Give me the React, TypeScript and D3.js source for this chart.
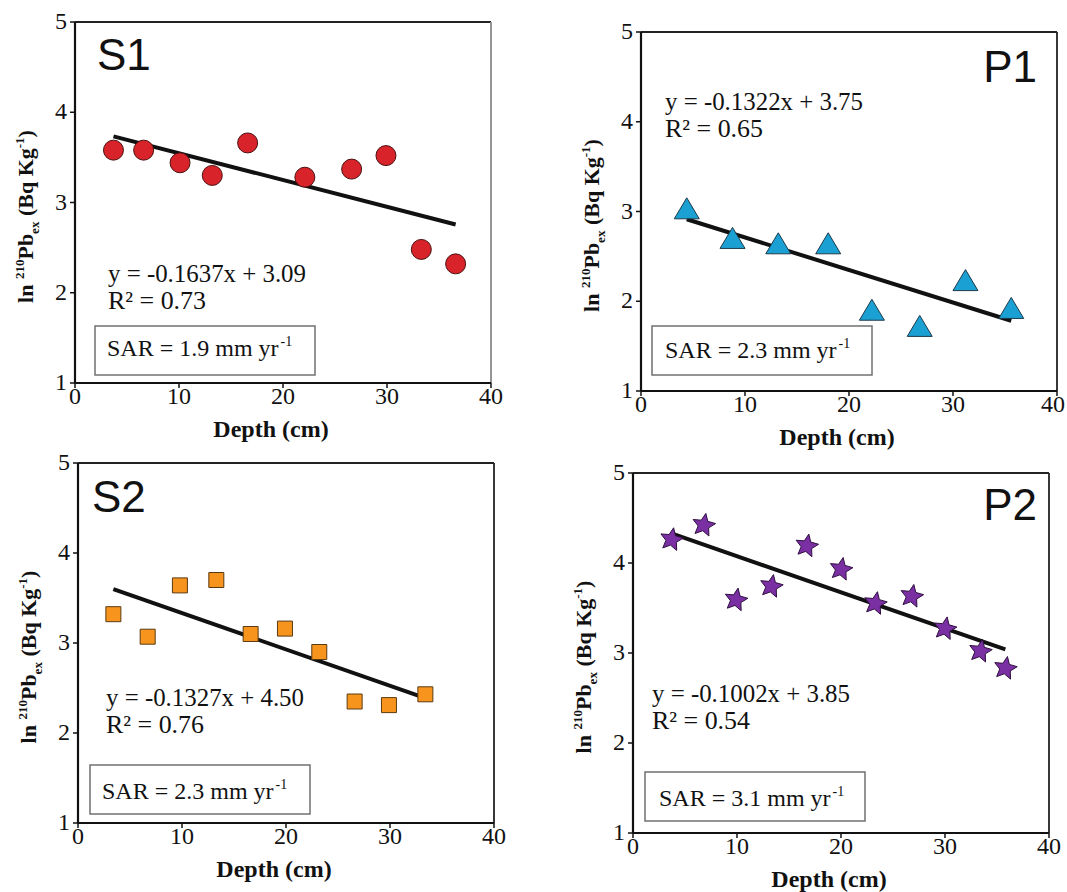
import React, { useEffect, useRef } from 'react';
import * as d3 from 'd3';

// depth (cm) and ln 210Pb_ex values
const s1Depth = [3.7, 6.6, 10.1, 13.2, 16.6, 22.1, 26.6, 29.9, 33.3, 36.6];
const s1Ln = [3.58, 3.58, 3.44, 3.30, 3.66, 3.28, 3.37, 3.52, 2.48, 2.32];

const p1Depth = [4.4, 8.8, 13.2, 18.0, 22.2, 26.8, 31.2, 35.6];
const p1Ln = [3.03, 2.70, 2.64, 2.64, 1.90, 1.72, 2.23, 1.92];

const s2Depth = [3.4, 6.7, 9.8, 13.3, 16.6, 19.9, 23.2, 26.6, 29.9, 33.4];
const s2Ln = [3.32, 3.07, 3.64, 3.70, 3.10, 3.16, 2.90, 2.35, 2.31, 2.43];

const p2Depth = [3.7, 6.8, 9.9, 13.3, 16.7, 20.0, 23.3, 26.8, 30.0, 33.4, 35.8];
const p2Ln = [4.26, 4.42, 3.59, 3.74, 4.19, 3.93, 3.55, 3.63, 3.27, 3.02, 2.83];

const xTicks = [0, 10, 20, 30, 40];
const yTicks = [1, 2, 3, 4, 5];

const panelNames = ['S1', 'P1', 'S2', 'P2'];
const equations = ['y = -0.1637x + 3.09', 'y = -0.1322x + 3.75', 'y = -0.1327x + 4.50', 'y = -0.1002x + 3.85'];
const rSquared = ['0.73', '0.65', '0.76', '0.54'];
const sarValues = ['1.9', '2.3', '2.3', '3.1'];

const SERIF = '"Liberation Serif", "Times New Roman", serif';
const SANS = '"Liberation Sans", Arial, sans-serif';

// plot frames and annotation offsets (pixels)
const layout = [
  { left: 75, top: 22, right: 491, bottom: 383, titleX: 22, titleAnchor: 'start', titleY: 48, eqX: 33, eqY: 260, boxX: 20, boxY: 304, textDx: 12, textDy: 30, rightStroke: '#8a8a8a' },
  { left: 641, top: 32, right: 1057, bottom: 391, titleX: -20, titleAnchor: 'end', titleY: 50, eqX: 24, eqY: 78, boxX: 11, boxY: 294, textDx: 13, textDy: 32, rightStroke: '#222' },
  { left: 78, top: 463, right: 494, bottom: 823, titleX: 14, titleAnchor: 'start', titleY: 49, eqX: 28, eqY: 243, boxX: 12, boxY: 302, textDx: 12, textDy: 34, rightStroke: '#222' },
  { left: 633, top: 473, right: 1049, bottom: 833, titleX: -12, titleAnchor: 'end', titleY: 47, eqX: 19, eqY: 229, boxX: 12, boxY: 299, textDx: 14, textDy: 34, rightStroke: '#222' },
];

const series = [
  { depth: s1Depth, ln: s1Ln, marker: 'circle', fill: '#d8232a', stroke: '#4a1212' },
  { depth: p1Depth, ln: p1Ln, marker: 'triangle', fill: '#1aa0d2', stroke: '#1c3a4a' },
  { depth: s2Depth, ln: s2Ln, marker: 'square', fill: '#f7941d', stroke: '#5a3a12' },
  { depth: p2Depth, ln: p2Ln, marker: 'star', fill: '#7a2fa2', stroke: '#2f1040' },
];

function starPath(outer: number, inner: number, rot: number) {
  const pts: [number, number][] = [];
  for (let i = 0; i < 10; i++) {
    const r = i % 2 === 0 ? outer : inner;
    const a = rot + (i * Math.PI) / 5 - Math.PI / 2;
    pts.push([r * Math.cos(a), r * Math.sin(a)]);
  }
  return 'M' + pts.map(p => p.join(',')).join('L') + 'Z';
}

function markerPath(kind: string) {
  if (kind === 'triangle') return 'M0,-11L12.5,10L-12.5,10Z';
  if (kind === 'square') return 'M-7.5,-7.5H7.5V7.5H-7.5Z';
  if (kind === 'star') return starPath(12, 5.6, 0.18);
  return d3.symbol(d3.symbolCircle, Math.PI * 100)() as string;
}

const App = () => {
  const svgRef = useRef<SVGSVGElement>(null);

  useEffect(() => {
    const svg = d3.select(svgRef.current);
    svg.selectAll('*').remove();

    layout.forEach((L, i) => {
      const s = series[i];
      const g = svg.append('g');
      const x = d3.scaleLinear().domain([0, 40]).range([L.left, L.right]);
      const y = d3.scaleLinear().domain([1, 5]).range([L.bottom, L.top]);

      // frame: top and right
      g.append('line').attr('x1', L.left).attr('x2', L.right).attr('y1', L.top).attr('y2', L.top)
        .attr('stroke', '#222').attr('stroke-width', 1.8);
      g.append('line').attr('x1', L.right).attr('x2', L.right).attr('y1', L.top).attr('y2', L.bottom)
        .attr('stroke', L.rightStroke).attr('stroke-width', 1.8);

      // SAR box
      g.append('rect')
        .attr('x', L.left + L.boxX).attr('y', L.top + L.boxY)
        .attr('width', 220).attr('height', 49)
        .attr('fill', 'white').attr('stroke', '#707070').attr('stroke-width', 1.5);
      const sar = g.append('text')
        .attr('x', L.left + L.boxX + L.textDx).attr('y', L.top + L.boxY + L.textDy)
        .attr('font-family', SERIF).attr('font-size', 24).attr('fill', '#111');
      sar.append('tspan').text(`SAR = ${sarValues[i]} mm yr`);
      sar.append('tspan').attr('font-size', 14).attr('dy', -10).attr('dx', 2).text('-1');

      // axes
      g.append('line').attr('x1', L.left).attr('x2', L.left).attr('y1', L.top).attr('y2', L.bottom)
        .attr('stroke', '#111').attr('stroke-width', 2.2);
      g.append('line').attr('x1', L.left).attr('x2', L.right).attr('y1', L.bottom).attr('y2', L.bottom)
        .attr('stroke', '#111').attr('stroke-width', 2.2);

      g.selectAll('.xt').data(xTicks).enter().append('line')
        .attr('x1', d => x(d)).attr('x2', d => x(d))
        .attr('y1', L.bottom).attr('y2', L.bottom + 5)
        .attr('stroke', '#111').attr('stroke-width', 1.5);
      g.selectAll('.xl').data(xTicks).enter().append('text')
        .attr('x', d => Math.min(x(d), 1053)).attr('y', L.bottom + 21)
        .attr('text-anchor', 'middle')
        .attr('font-family', SERIF).attr('font-size', 24).attr('fill', '#111')
        .text(d => d);

      g.selectAll('.yt').data(yTicks).enter().append('line')
        .attr('x1', L.left - 5).attr('x2', L.left)
        .attr('y1', d => y(d)).attr('y2', d => y(d))
        .attr('stroke', '#111').attr('stroke-width', 1.5);
      g.selectAll('.yl').data(yTicks).enter().append('text')
        .attr('x', L.left - 8).attr('y', d => y(d) + 7)
        .attr('text-anchor', 'end')
        .attr('font-family', SERIF).attr('font-size', 24).attr('fill', '#111')
        .text(d => d);

      // axis titles
      g.append('text')
        .attr('x', (L.left + L.right) / 2 - 12).attr('y', L.bottom + 54)
        .attr('text-anchor', 'middle')
        .attr('font-family', SERIF).attr('font-size', 24).attr('font-weight', 'bold').attr('fill', '#111')
        .text('Depth (cm)');

      const yl = g.append('text')
        .attr('transform', `translate(${L.left - 42},${(L.top + L.bottom) / 2 + 14}) rotate(-90)`)
        .attr('text-anchor', 'middle')
        .attr('font-family', SERIF).attr('font-size', 22).attr('font-weight', 'bold').attr('fill', '#111');
      yl.append('tspan').text('ln ');
      yl.append('tspan').attr('font-size', 13).attr('dy', -9).text('210');
      yl.append('tspan').attr('dy', 9).text('Pb');
      yl.append('tspan').attr('font-size', 13).attr('dy', 6).text('ex');
      yl.append('tspan').attr('dy', -6).text(' (Bq Kg');
      yl.append('tspan').attr('font-size', 13).attr('dy', -9).text('-1');
      yl.append('tspan').attr('dy', 9).text(')');

      // panel title
      g.append('text')
        .attr('x', L.titleAnchor === 'start' ? L.left + L.titleX : L.right + L.titleX)
        .attr('y', L.top + L.titleY)
        .attr('text-anchor', L.titleAnchor)
        .attr('font-family', SANS).attr('font-size', 44).attr('fill', '#111')
        .text(panelNames[i]);

      // regression annotation
      g.append('text')
        .attr('x', L.left + L.eqX).attr('y', L.top + L.eqY)
        .attr('font-family', SERIF).attr('font-size', 25).attr('fill', '#111')
        .attr('textLength', 198).attr('lengthAdjust', 'spacingAndGlyphs')
        .text(equations[i]);
      g.append('text')
        .attr('x', L.left + L.eqX).attr('y', L.top + L.eqY + 27)
        .attr('font-family', SERIF).attr('font-size', 25).attr('fill', '#111')
        .attr('textLength', 98).attr('lengthAdjust', 'spacingAndGlyphs')
        .text(`R\u00b2 = ${rSquared[i]}`);

      // least-squares trend line
      const pts = s.depth.map((d, k) => [d, s.ln[k]] as [number, number]);
      const mx = d3.mean(pts, p => p[0]) as number;
      const my = d3.mean(pts, p => p[1]) as number;
      const sxy = d3.sum(pts, p => (p[0] - mx) * (p[1] - my));
      const sxx = d3.sum(pts, p => (p[0] - mx) ** 2);
      const slope = sxy / sxx;
      const icpt = my - slope * mx;
      const [x0, x1] = d3.extent(s.depth) as [number, number];
      g.append('path')
        .attr('d', d3.line()([[x(x0), y(icpt + slope * x0)], [x(x1), y(icpt + slope * x1)]]))
        .attr('stroke', '#111').attr('stroke-width', 4).attr('fill', 'none');

      // markers
      g.selectAll('.pt').data(pts).enter().append('path')
        .attr('transform', d => `translate(${x(d[0])},${y(d[1])})`)
        .attr('d', markerPath(s.marker))
        .attr('fill', s.fill).attr('stroke', s.stroke).attr('stroke-width', 1);
    });
  }, []);

  return (
    <svg ref={svgRef} width={1067} height={892}
      style={{ position: 'absolute', left: 0, top: 0, background: 'white' }} />
  );
};

export default App;
